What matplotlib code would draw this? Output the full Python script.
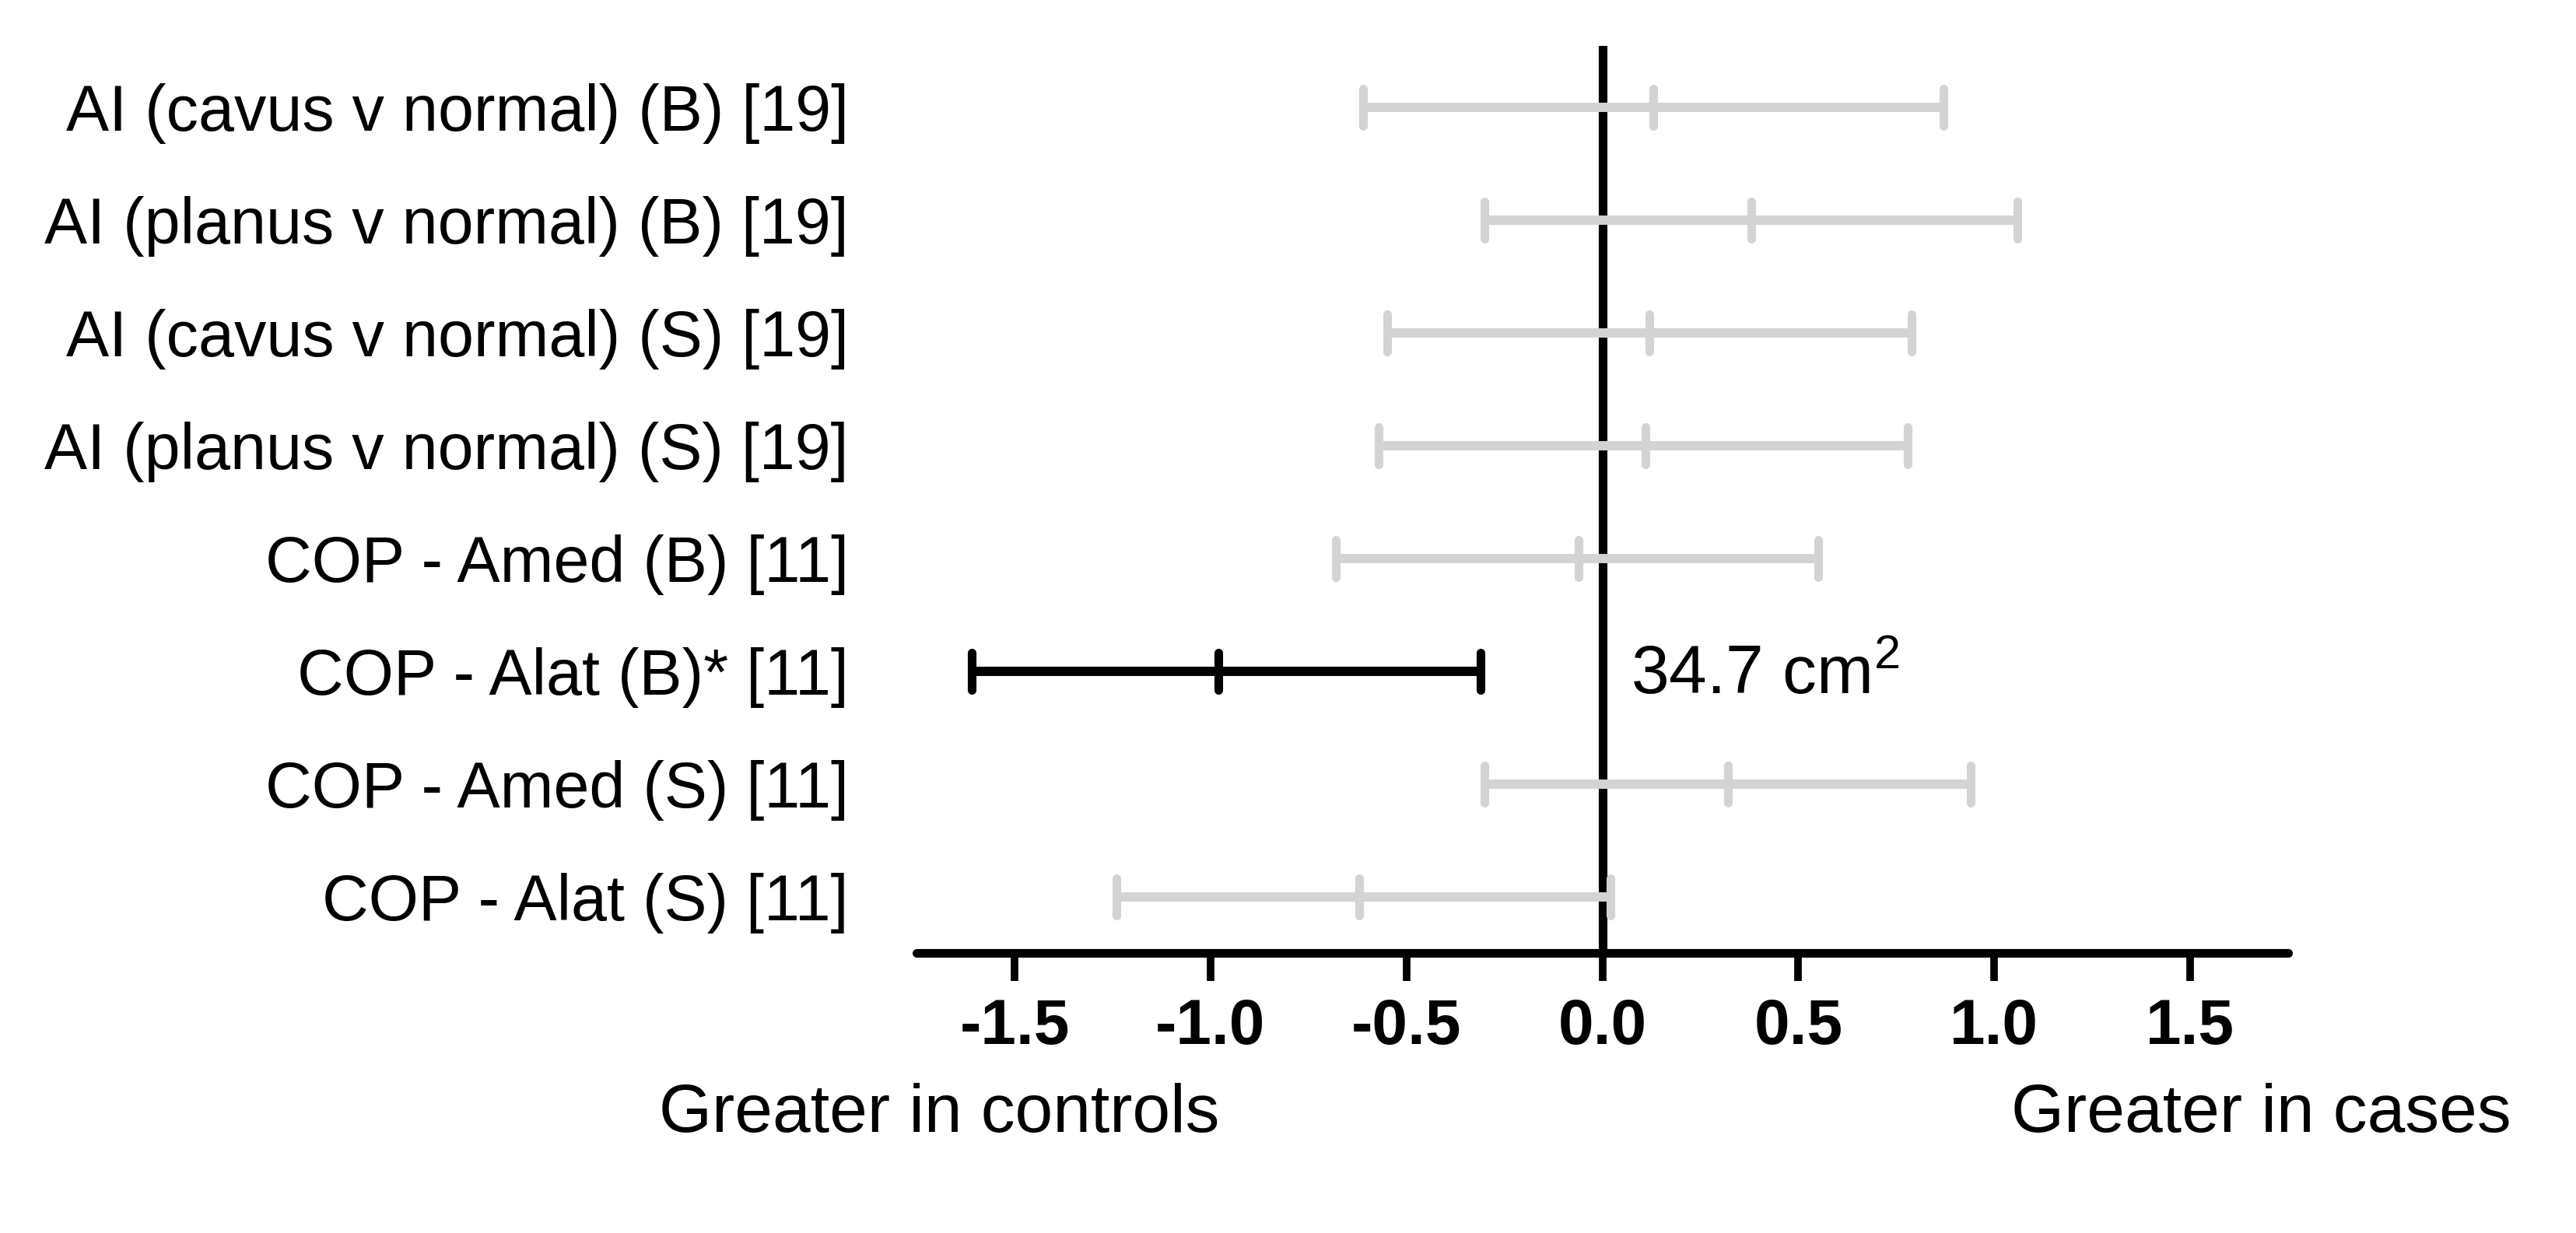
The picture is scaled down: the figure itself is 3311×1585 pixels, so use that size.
import matplotlib
matplotlib.use('Agg')
import matplotlib.pyplot as plt
from matplotlib.markers import MarkerStyle

# Forest plot data (effect size with 95% CI), top row first
labels = [
    'AI (cavus v normal) (B) [19]',
    'AI (planus v normal) (B) [19]',
    'AI (cavus v normal) (S) [19]',
    'AI (planus v normal) (S) [19]',
    'COP - Amed (B) [11]',
    'COP - Alat (B)* [11]',
    'COP - Amed (S) [11]',
    'COP - Alat (S) [11]',
]
means = [0.13, 0.38, 0.12, 0.11, -0.06, -0.98, 0.32, -0.62]
lower = [-0.61, -0.30, -0.55, -0.57, -0.68, -1.61, -0.30, -1.24]
upper = [0.87, 1.06, 0.79, 0.78, 0.55, -0.31, 0.94, 0.02]
significant = [False, False, False, False, False, True, False, False]
xticks = [-1.5, -1.0, -0.5, 0.0, 0.5, 1.0, 1.5]
note_text = '34.7 cm$^2$'
left_label = 'Greater in controls'
right_label = 'Greater in cases'

plt.rcParams['font.family'] = ['Liberation Sans', 'DejaVu Sans']
plt.rcParams['mathtext.default'] = 'regular'
plt.rcParams['axes.unicode_minus'] = False

fig = plt.figure(figsize=(33.12, 15.85), dpi=100)
ax = fig.add_axes([0.3557, 0.2271, 0.5323, 0.7354])

# zero line behind the bars
ax.axvline(0, color='black', lw=8, solid_capstyle='round', zorder=1)

cap_marker = MarkerStyle('|', capstyle='round')
for i, (lab, m, lo, hi, sig) in enumerate(zip(labels, means, lower, upper, significant)):
    col = 'black' if sig else '#d3d3d3'
    ax.hlines(i, lo, hi, color=col, lw=8.6, zorder=3)
    ax.plot([lo, m, hi], [i, i, i], ls='none', marker=cap_marker,
            ms=34, mew=8, color=col, zorder=4, clip_on=False)

# annotation next to the significant row
sig_row = significant.index(True)
ax.text(0.072, sig_row + 0.2, note_text, fontsize=63, va='baseline', ha='left')

ax.set_xlim(-1.75, 1.75)
ax.set_ylim(len(labels) - 0.5, -0.54)

ax.set_yticks(range(len(labels)))
ax.set_yticklabels(labels, fontsize=59.5)
ax.tick_params(axis='y', length=0, pad=63)

ax.set_xticks(xticks)
ax.set_xticklabels([f'{t:.1f}' for t in xticks], fontsize=59, fontweight='bold')
ax.tick_params(axis='x', direction='out', length=26, width=7, pad=16)

for side in ['top', 'right', 'left']:
    ax.spines[side].set_visible(False)
ax.spines['bottom'].set_linewidth(8)
ax.spines['bottom'].set_capstyle('round')

fig.text(0.4731, 0.082, left_label, fontsize=63, ha='right', va='baseline')
fig.text(0.7805, 0.082, right_label, fontsize=63, ha='left', va='baseline')

fig.savefig('out.png', dpi=100)
